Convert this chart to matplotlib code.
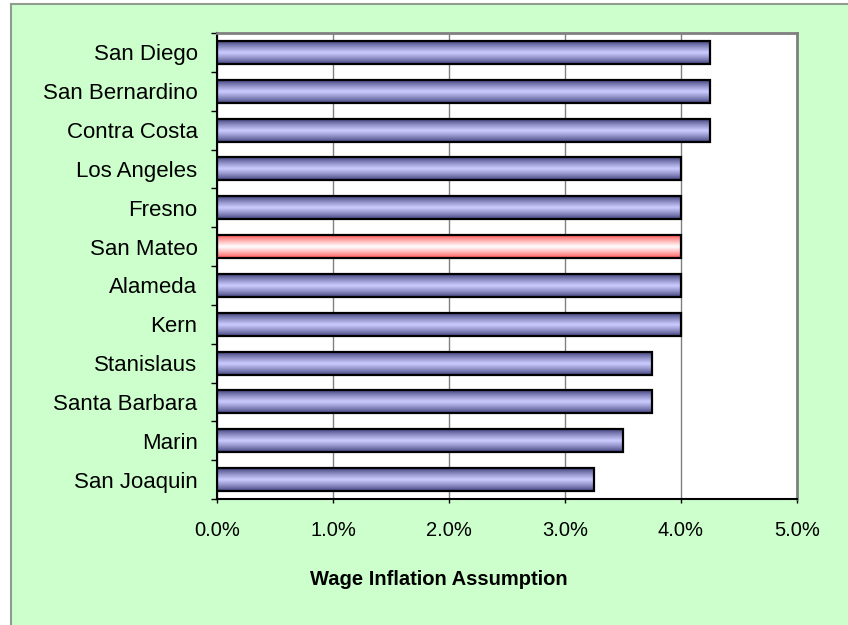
import numpy as np
import matplotlib
matplotlib.use('Agg')
import matplotlib.pyplot as plt
from matplotlib.patches import Rectangle
from matplotlib.ticker import FuncFormatter, MultipleLocator

plt.rcParams['font.family'] = ['Liberation Sans', 'DejaVu Sans']

counties = ['San Diego', 'San Bernardino', 'Contra Costa', 'Los Angeles',
            'Fresno', 'San Mateo', 'Alameda', 'Kern', 'Stanislaus',
            'Santa Barbara', 'Marin', 'San Joaquin']
wage_inflation = [4.25, 4.25, 4.25, 4.0, 4.0, 4.0, 4.0, 4.0, 3.75, 3.75,
                  3.5, 3.25]
highlight = 'San Mateo'


def gradient(edge, centre, n=64):
    # dark at the edges, light in the middle, like the Excel fill
    t = np.linspace(0, 1, n)
    w = (1 - np.abs(2 * t - 1)) ** 0.8
    edge = np.array(matplotlib.colors.to_rgb(edge))
    centre = np.array(matplotlib.colors.to_rgb(centre))
    rgb = edge[None, :] * (1 - w[:, None]) + centre[None, :] * w[:, None]
    return rgb[:, None, :]


blue_grad = gradient('#3c3c78', '#ccccff')
red_grad = gradient('#ff4c4c', '#ffffff')

fig = plt.figure(figsize=(8.48, 6.25), dpi=100)
fig.patch.set_facecolor('white')
fig.patches.append(Rectangle((11 / 848, -0.1), 1.2, 1 - 4 / 625 + 0.1,
                             transform=fig.transFigure, facecolor='#ccffcc',
                             edgecolor='#909c90', linewidth=1.5, zorder=-5))

ax = fig.add_axes([217 / 848, 1 - 499 / 625, 580 / 848, 466 / 625])
ax.set_facecolor('white')

ypos = np.arange(len(counties))[::-1]
bars = ax.barh(ypos, wage_inflation, height=0.59, color='none',
               edgecolor='black', linewidth=1.6, zorder=3)
for rect, name in zip(bars, counties):
    g = red_grad if name == highlight else blue_grad
    ax.imshow(g, extent=[rect.get_x(), rect.get_x() + rect.get_width(),
                         rect.get_y(), rect.get_y() + rect.get_height()],
              aspect='auto', zorder=2, interpolation='bilinear')

ax.set_xlim(0, 5)
ax.set_ylim(-0.5, len(counties) - 0.5)
ax.xaxis.set_major_locator(MultipleLocator(1))
ax.xaxis.set_major_formatter(FuncFormatter(lambda v, p: f'{v:.1f}%'))
ax.grid(axis='x', color='#808080', linewidth=1, zorder=1)
ax.set_axisbelow(True)

ax.set_yticks(ypos)
ax.set_yticklabels(counties, fontsize=16)
ax.set_yticks(np.arange(-0.5, len(counties)), minor=True)
ax.tick_params(axis='y', which='major', length=0, pad=14)
ax.tick_params(axis='y', which='minor', length=4, width=1, direction='out')
ax.tick_params(axis='x', which='major', length=3, width=1, direction='out',
               labelsize=14.5, pad=13)

for s in ['left', 'bottom']:
    ax.spines[s].set_color('black')
    ax.spines[s].set_linewidth(1.5)
for s in ['top', 'right']:
    ax.spines[s].set_color('#808080')
    ax.spines[s].set_linewidth(2)

fig.text(439 / 848, 1 - 585 / 625, 'Wage Inflation Assumption', ha='center',
         va='baseline', fontsize=14.5, fontweight='bold')

fig.savefig('out.png', dpi=100)
